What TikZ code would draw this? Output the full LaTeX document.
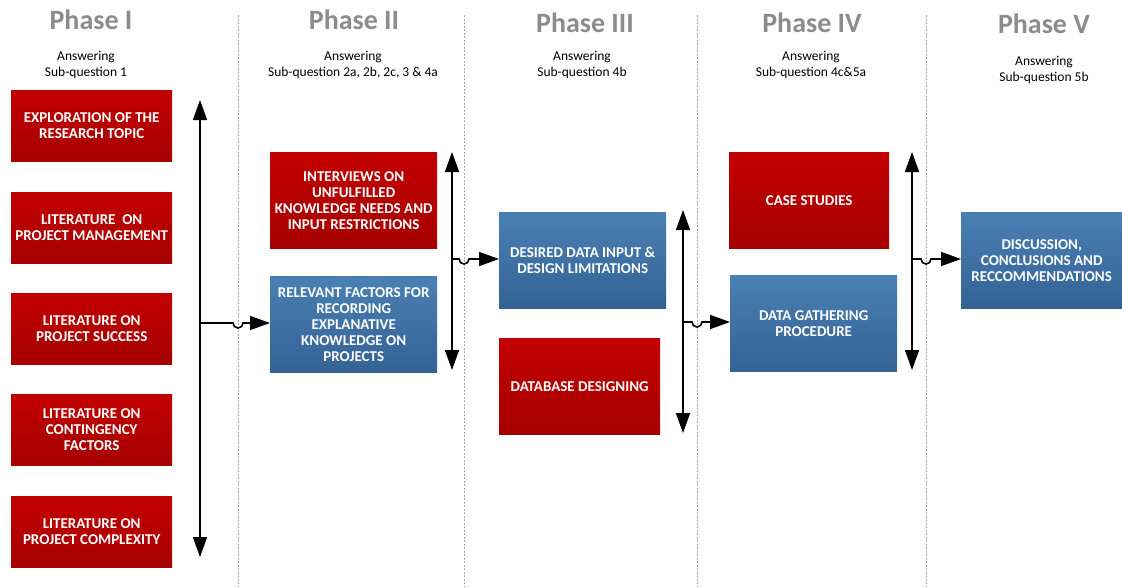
\documentclass[tikz,border=0pt]{standalone}
\usepackage{fontspec}
\setmainfont{Carlito}
\usetikzlibrary{arrows.meta}
\definecolor{redtop}{HTML}{C30000}
\definecolor{redbot}{HTML}{A50000}
\definecolor{bluetop}{HTML}{4A80B3}
\definecolor{bluebot}{HTML}{346295}
\definecolor{titlegray}{HTML}{8C8C8C}
\tikzset{
  x=1pt,y=-1pt,
  boxbase/.style={anchor=north west,inner sep=0pt,align=center,text=white,
    font=\fontsize{15}{16}\selectfont\bfseries},
  redbox/.style={boxbase,top color=redtop,bottom color=redbot},
  bluebox/.style={boxbase,top color=bluetop,bottom color=bluebot},
  phasetitle/.style={font=\fontsize{28}{30}\selectfont\bfseries,text=titlegray},
  subtitle/.style={font=\fontsize{13.5}{16}\selectfont,align=center},
  divider/.style={draw=gray!70,dashed,dash pattern=on 2pt off 1.5pt,line width=1pt},
  dblarrow/.style={line width=1.6pt,{Triangle[length=20pt,width=14pt]}-{Triangle[length=20pt,width=14pt]}},
  onearrow/.style={line width=1.6pt,-{Triangle[length=20pt,width=14pt]}},
}
\begin{document}
\begin{tikzpicture}
\useasboundingbox (0,0) rectangle (1122,587);
% dividers
\foreach \x/\n in {238/a,464/b,697/c,926/d}{
  \draw[divider] (\x,15) -- (\x,587);
}
% titles
\node[phasetitle] (t1) at (91,20) {Phase I};
\node[phasetitle] (t2) at (354,20) {Phase II};
\node[phasetitle] (t3) at (585,23) {Phase III};
\node[phasetitle] (t4) at (812,23) {Phase IV};
\node[phasetitle] (t5) at (1044,24) {Phase V};
\node[subtitle] (s1) at (86,65) {Answering\\Sub-question 1};
\node[subtitle] (s2) at (353,65) {Answering\\Sub-question 2a, 2b, 2c, 3 \& 4a};
\node[subtitle] (s3) at (582,65) {Answering\\Sub-question 4b};
\node[subtitle] (s4) at (811,65) {Answering\\Sub-question 4c\&5a};
\node[subtitle] (s5) at (1044,70) {Answering\\Sub-question 5b};
% Phase I boxes
\node[redbox,minimum width=161pt,minimum height=71pt] (p1a) at (11,90) {EXPLORATION OF THE\\RESEARCH TOPIC};
\node[redbox,minimum width=161pt,minimum height=71pt] (p1b) at (11,192) {LITERATURE\ \ ON\\PROJECT MANAGEMENT};
\node[redbox,minimum width=161pt,minimum height=71pt] (p1c) at (11,293) {LITERATURE ON\\PROJECT SUCCESS};
\node[redbox,minimum width=161pt,minimum height=71pt] (p1d) at (11,394) {LITERATURE ON\\CONTINGENCY\\FACTORS};
\node[redbox,minimum width=161pt,minimum height=71pt] (p1e) at (11,496) {LITERATURE ON\\PROJECT COMPLEXITY};
% Phase II
\node[redbox,minimum width=167pt,minimum height=96pt] (p2a) at (270,152) {INTERVIEWS ON\\UNFULFILLED\\KNOWLEDGE NEEDS AND\\INPUT RESTRICTIONS};
\node[bluebox,minimum width=167pt,minimum height=96pt] (p2b) at (270,276) {RELEVANT FACTORS FOR\\RECORDING\\EXPLANATIVE\\KNOWLEDGE ON\\PROJECTS};
% Phase III
\node[bluebox,minimum width=167pt,minimum height=96pt] (p3a) at (499,212) {DESIRED DATA INPUT \&\\DESIGN LIMITATIONS};
\node[redbox,minimum width=161pt,minimum height=96pt] (p3b) at (499,338) {DATABASE DESIGNING};
% Phase IV
\node[redbox,minimum width=160pt,minimum height=96pt] (p4a) at (729,152) {CASE STUDIES};
\node[bluebox,minimum width=167pt,minimum height=96pt] (p4b) at (730,275) {DATA GATHERING\\PROCEDURE};
% Phase V
\node[bluebox,minimum width=161pt,minimum height=96pt] (p5a) at (961,212) {DISCUSSION,\\CONCLUSIONS AND\\RECCOMMENDATIONS};
% vertical double arrows
\coordinate (v1t) at (200,100); \coordinate (v1b) at (200,557);
\coordinate (v2t) at (452,152); \coordinate (v2b) at (452,370);
\coordinate (v3t) at (683,210); \coordinate (v3b) at (683,433);
\coordinate (v4t) at (912,152); \coordinate (v4b) at (912,370);
\draw[dblarrow] (v1t) -- (v1b);
\draw[dblarrow] (v2t) -- (v2b);
\draw[dblarrow] (v3t) -- (v3b);
\draw[dblarrow] (v4t) -- (v4b);
% horizontal connectors with jumps
\coordinate (h1) at (200,323);
\coordinate (h2) at (452,259);
\coordinate (h3) at (683,322);
\coordinate (h4) at (912,259);
\draw[onearrow] (h1) -- (233,323) arc[start angle=180,end angle=0,radius=5] -- (p2b.west|-h1);
\draw[onearrow] (h2) -- (459,259) arc[start angle=180,end angle=0,radius=5] -- (p3a.west|-h2);
\draw[onearrow] (h3) -- (692,322) arc[start angle=180,end angle=0,radius=5] -- (p4b.west|-h3);
\draw[onearrow] (h4) -- (921,259) arc[start angle=180,end angle=0,radius=5] -- (p5a.west|-h4);
\end{tikzpicture}
\end{document}
